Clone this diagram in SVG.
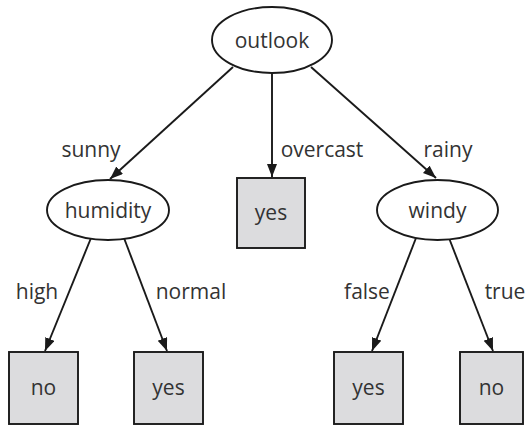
<svg xmlns="http://www.w3.org/2000/svg" width="529" height="426" viewBox="0 0 529 426">
<style>
.n{fill:#fff;stroke:#1a1a1a;stroke-width:1.9}
.b{fill:#dcdcde;stroke:#1a1a1a;stroke-width:1.9}
.t{font-family:"Open Sans","Liberation Sans",sans-serif;font-size:21px;fill:#333;text-anchor:middle}
.e{stroke:#1a1a1a;stroke-width:1.9;fill:none;marker-end:url(#ah)}
</style>
<defs>
<marker id="ah" markerUnits="userSpaceOnUse" markerWidth="14" markerHeight="12" refX="13" refY="5" orient="auto">
<path d="M0,0 L13,5 L0,10 Z" fill="#1a1a1a"/>
</marker>
</defs>
<rect width="529" height="426" fill="#fff"/>
<g id="connectors">
<line class="e" x1="233" y1="67" x2="110" y2="179"/>
<line class="e" x1="272" y1="73" x2="272" y2="177"/>
<line class="e" x1="311" y1="67" x2="436" y2="178"/>
<line class="e" x1="91" y1="238" x2="45" y2="351"/>
<line class="e" x1="124" y1="238" x2="167" y2="351"/>
<line class="e" x1="416" y1="238" x2="372" y2="351"/>
<line class="e" x1="449" y1="238" x2="493" y2="351"/>
<text class="t" x="91" y="157">sunny</text>
<text class="t" x="322" y="157">overcast</text>
<text class="t" x="448" y="157">rainy</text>
<text class="t" x="37" y="299">high</text>
<text class="t" x="191" y="299">normal</text>
<text class="t" x="367" y="299">false</text>
<text class="t" x="505" y="299">true</text>
</g>
<g id="outlook">
<ellipse class="n" cx="272" cy="40" rx="60" ry="33"/>
<text class="t" x="272" y="48">outlook</text>
</g>
<g id="humidity">
<ellipse class="n" cx="108" cy="210" rx="61" ry="30"/>
<text class="t" x="108" y="218">humidity</text>
</g>
<g id="windy">
<ellipse class="n" cx="437.5" cy="210" rx="60.5" ry="30"/>
<text class="t" x="437.5" y="218">windy</text>
</g>
<g id="yes_overcast">
<rect class="b" x="237" y="178" width="68" height="70"/>
<text class="t" x="271" y="220">yes</text>
</g>
<g id="no_high">
<rect class="b" x="9" y="352" width="69" height="72"/>
<text class="t" x="43.5" y="395">no</text>
</g>
<g id="yes_normal">
<rect class="b" x="134" y="352" width="69" height="72"/>
<text class="t" x="168.5" y="395">yes</text>
</g>
<g id="yes_false">
<rect class="b" x="334" y="352" width="69" height="72"/>
<text class="t" x="368.5" y="395">yes</text>
</g>
<g id="no_true">
<rect class="b" x="460" y="352" width="63" height="72"/>
<text class="t" x="491.5" y="395">no</text>
</g>
</svg>
